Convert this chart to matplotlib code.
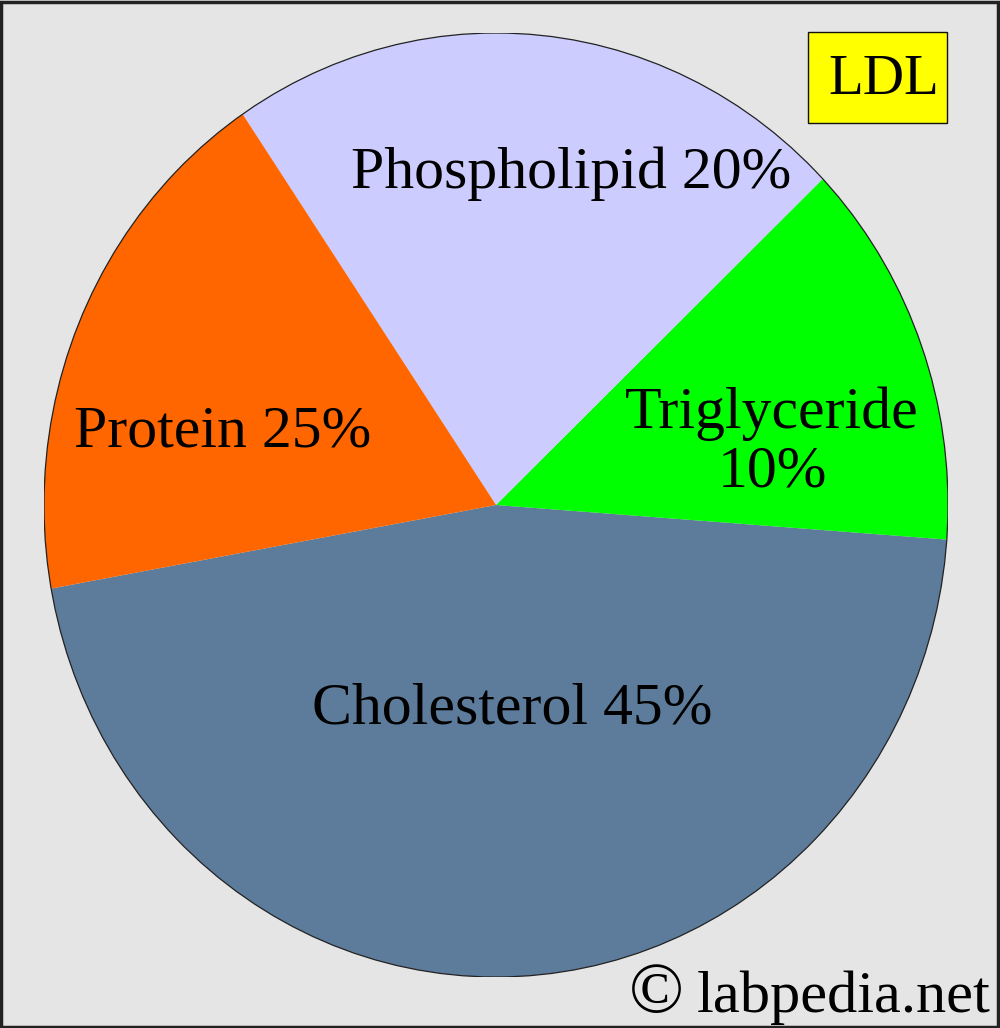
import matplotlib
matplotlib.use("Agg")
import matplotlib.pyplot as plt
from matplotlib.patches import Circle, Rectangle

plt.rcParams['font.family'] = ['Liberation Serif', 'DejaVu Serif']

# wedge order goes counter-clockwise from the protein/cholesterol boundary
names = ['Cholesterol', 'Triglyceride', 'Phospholipid', 'Protein']
label_text = ['Cholesterol 45%', 'Triglyceride\n10%', 'Phospholipid 20%', 'Protein 25%']
# angular share of each wedge as drawn in the picture (degrees)
wedge_deg = [165.6, 47.9, 80.4, 66.1]
colors = ['#5d7b9a', '#00ff00', '#ccccff', '#ff6600']

W, H = 1000, 1028
fig = plt.figure(figsize=(W / 100, H / 100), dpi=100)
fig.patch.set_facecolor('#e5e5e5')

# pie is slightly taller than wide in the picture, so aspect is left free
ax = fig.add_axes([44 / W, 1 - 977 / H, 904 / W, 944 / H])
ax.pie(wedge_deg, colors=colors, startangle=190.2, counterclock=True,
       radius=1, wedgeprops=dict(linewidth=0))
ax.add_patch(Circle((0, 0), 1, fill=False, edgecolor='#222222', linewidth=0.9))
ax.set_aspect('auto')
ax.set_xlim(-1, 1)
ax.set_ylim(-1, 1)
ax.axis('off')


def px(x, y):
    return x / W, 1 - y / H


fs = 43
label_pos = [(512, 710), (772, 443), (571, 174), (223, 432)]
for txt, (x, y) in zip(label_text, label_pos):
    fig.text(*px(x, y), txt, fontsize=fs, ha='center', va='center',
             linespacing=1.12)

# LDL tag
fig.patches.append(Rectangle(px(808, 123), 139 / W, 91 / H,
                             transform=fig.transFigure, facecolor='#ffff00',
                             edgecolor='#111111', linewidth=1.0))
fig.text(*px(884, 80), 'LDL', fontsize=41, ha='center', va='center')

# copyright line
fig.text(*px(656, 1012), '\u00a9', fontsize=52, ha='center', va='baseline')
fig.text(*px(697, 1012), 'labpedia.net', fontsize=43.5, ha='left',
         va='baseline')

# outer frame
fig.patches.append(Rectangle((0.001, 0.001), 0.997, 0.997,
                             transform=fig.transFigure, fill=False,
                             edgecolor='#222222', linewidth=2.5))

fig.savefig('out.png', dpi=100, facecolor=fig.get_facecolor())
